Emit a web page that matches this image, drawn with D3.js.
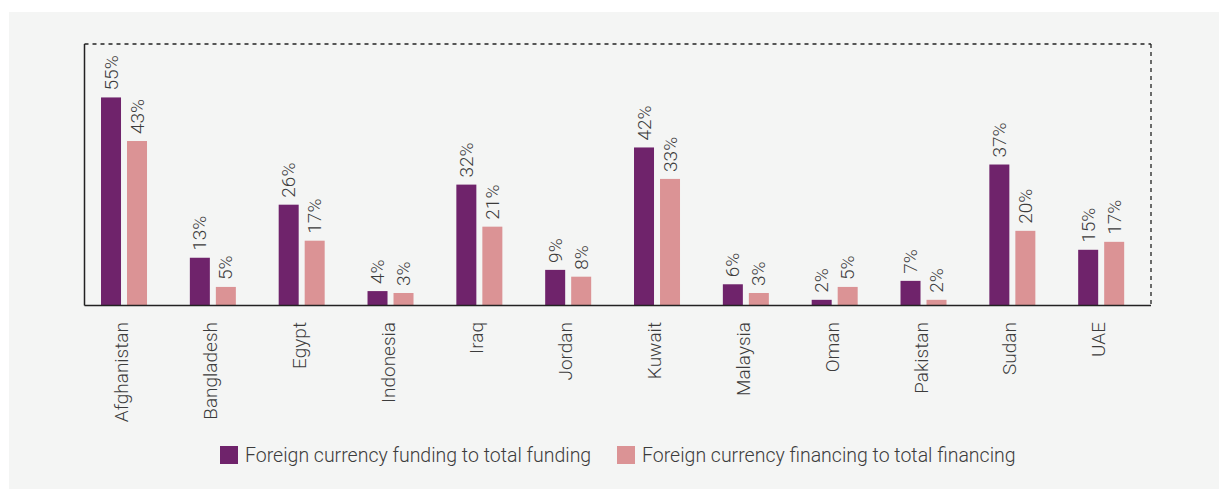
<!DOCTYPE html>
<html>
<head>
<meta charset="utf-8">
<script src="https://cdn.jsdelivr.net/npm/d3@7"></script>
<style>
  html, body { margin: 0; padding: 0; background: #ffffff; }
  svg { display: block; }
  text { font-family: Roboto, "Noto Sans", sans-serif; font-weight: 300; fill: #3c3c3c; }
</style>
</head>
<body>
<svg id="chart" width="1219" height="489"></svg>
<script>
const categories = ["Afghanistan","Bangladesh","Egypt","Indonesia","Iraq","Jordan","Kuwait","Malaysia","Oman","Pakistan","Sudan","UAE"];
const seriesNames = ["Foreign currency funding to total funding","Foreign currency financing to total financing"];
const fundingValues   = [54.9, 12.6, 26.6, 3.8, 31.9, 9.4, 41.7, 5.6, 1.5, 6.5, 37.2, 14.7];
const financingValues = [43.4, 4.9, 17.1, 3.3, 20.8, 7.6, 33.4, 3.3, 4.9, 1.5, 19.7, 16.8];
const fundingLabels   = ["55%","13%","26%","4%","32%","9%","42%","6%","2%","7%","37%","15%"];
const financingLabels = ["43%","5%","17%","3%","21%","8%","33%","3%","5%","2%","20%","17%"];
const colors = ["#6f236b", "#db9395"];

const svg = d3.select("#chart");
svg.append("rect").attr("x", 9).attr("y", 12).attr("width", 1210).attr("height", 477).attr("fill", "#f4f5f4");

const plot = {left: 84.5, right: 1151, top: 44, bottom: 305.5};
const y = d3.scaleLinear().domain([0, 69]).range([plot.bottom, plot.top]);
const x0 = d3.scaleBand().domain(categories).range([79.6, 1145.6]).padding(0);
const x1 = d3.scaleBand().domain([0, 1]).range([0, 46]).paddingInner(6 / 26).paddingOuter(0);

const seriesVals = [fundingValues, financingValues];
const seriesLabels = [fundingLabels, financingLabels];

const groups = svg.append("g").selectAll("g").data(categories).join("g")
  .attr("transform", d => `translate(${x0(d) + x0.bandwidth() / 2 - 23},0)`);

[0, 1].forEach(s => {
  groups.append("rect")
    .attr("x", x1(s))
    .attr("width", x1.bandwidth())
    .attr("y", (d, i) => y(seriesVals[s][i]))
    .attr("height", (d, i) => y(0) - y(seriesVals[s][i]))
    .attr("fill", colors[s]);
  groups.append("text")
    .attr("transform", (d, i) => `translate(${x1(s) + x1.bandwidth() / 2},${y(seriesVals[s][i]) - 7}) rotate(-90)`)
    .attr("text-anchor", "start")
    .attr("dominant-baseline", "central")
    .style("font-size", "19px")
    .text((d, i) => seriesLabels[s][i]);
});

// frame: dashed top and right, solid left and bottom
svg.append("line").attr("x1", plot.left).attr("x2", plot.right).attr("y1", plot.top).attr("y2", plot.top)
  .attr("stroke", "#222").attr("stroke-width", 1.3).attr("stroke-dasharray", "4,4");
svg.append("line").attr("x1", plot.right).attr("x2", plot.right).attr("y1", plot.top).attr("y2", plot.bottom)
  .attr("stroke", "#222").attr("stroke-width", 1.3).attr("stroke-dasharray", "4,4");
svg.append("line").attr("x1", plot.left).attr("x2", plot.left).attr("y1", plot.top).attr("y2", plot.bottom)
  .attr("stroke", "#222").attr("stroke-width", 1.5);

// x axis
const xAxis = svg.append("g").attr("transform", `translate(0,${plot.bottom})`)
  .call(d3.axisBottom(x0).tickSize(0).tickPadding(0));
xAxis.select(".domain").attr("d", `M${plot.left},0H${plot.right}`).attr("stroke", "#222").attr("stroke-width", 1.5);
xAxis.selectAll(".tick text")
  .attr("transform", "translate(-2.5,16.5) rotate(-90)")
  .attr("x", 0).attr("y", 0).attr("dy", null)
  .attr("text-anchor", "end")
  .attr("dominant-baseline", "central")
  .style("font-family", "Roboto, sans-serif")
  .style("font-weight", 300)
  .style("font-size", "19px")
  .attr("fill", "#3c3c3c");

// legend
const legendX = [220, 617];
const legend = svg.append("g").selectAll("g").data(seriesNames).join("g")
  .attr("transform", (d, i) => `translate(${legendX[i]},446)`);
legend.append("rect").attr("width", 18).attr("height", 18).attr("fill", (d, i) => colors[i]);
legend.append("text").attr("x", 25).attr("y", 9).attr("dominant-baseline", "central")
  .style("font-size", "19.5px").text(d => d);
</script>
</body>
</html>
